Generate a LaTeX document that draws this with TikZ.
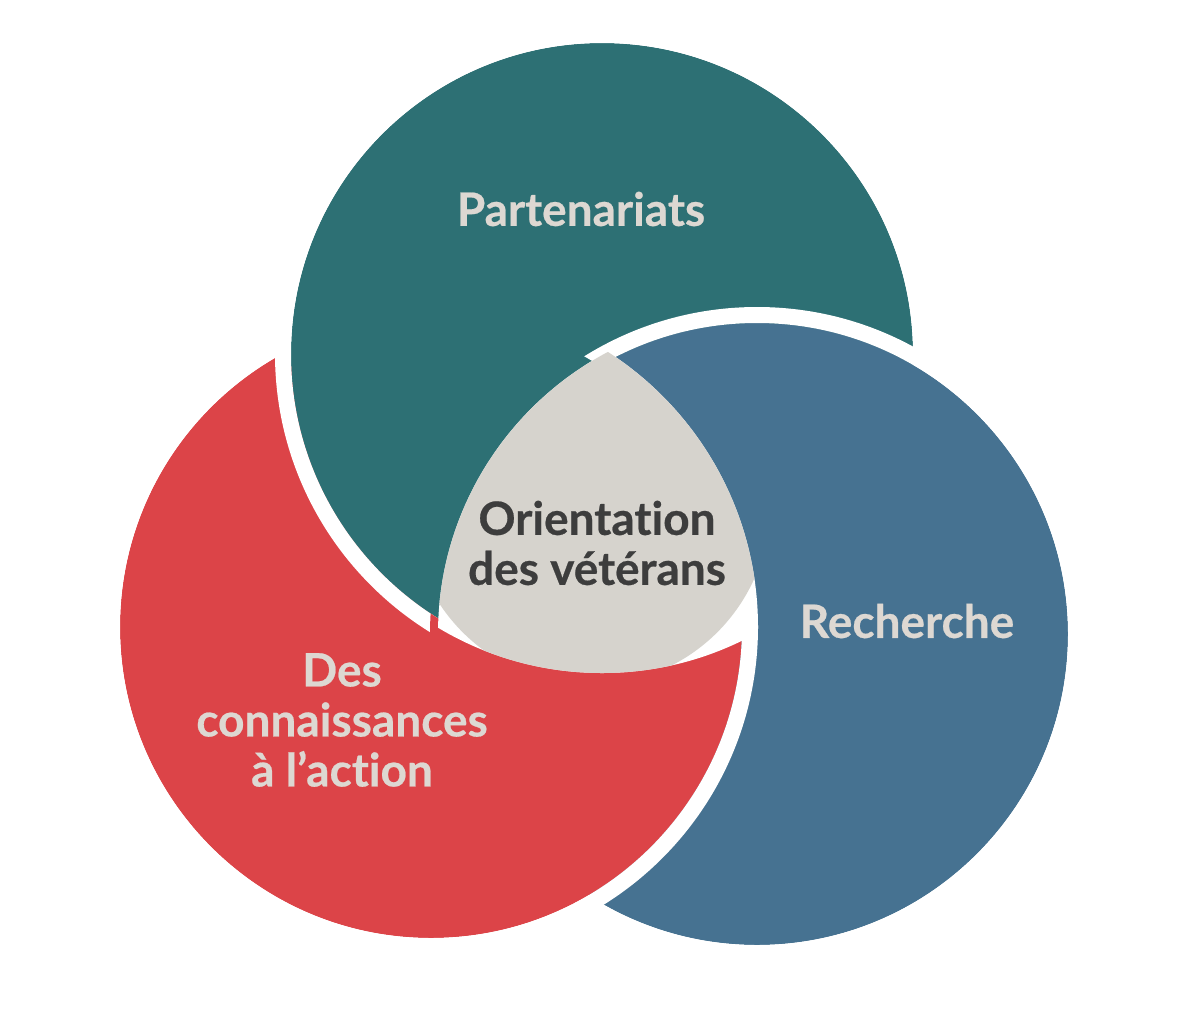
\documentclass[tikz,border=0pt]{standalone}
\usepackage{fontspec}
\setmainfont{Lato}[Ligatures=NoCommon, BoldFeatures={FakeBold=0.5}]
\definecolor{partenariat}{RGB}{45,112,116}
\definecolor{recherche}{RGB}{70,114,145}
\definecolor{action}{RGB}{220,68,72}
\definecolor{centre}{RGB}{214,211,205}
\definecolor{clair}{RGB}{221,216,210}
\definecolor{fonce}{RGB}{61,61,61}

\begin{document}
\begin{tikzpicture}[x=1pt, y=-1pt,
    anneau/.style={draw=white, line width=16pt},
    titre/.style={text=clair, font=\fontsize{46}{50}\selectfont\bfseries, align=center}]
  \useasboundingbox[fill=white] (0,0) rectangle (1196,1010);
  % centres des cercles
  \coordinate (T) at (602,354);
  \coordinate (B) at (757,634);
  \coordinate (R) at (431,627);
  \coordinate (O) at (590,505);

  % rouge en dessous
  \fill[action] (R) circle (311pt);
  \draw[anneau] (R) circle (319pt);
  % sarcelle sur le rouge
  \fill[partenariat] (T) circle (311pt);
  \draw[anneau] (T) circle (319pt);
  % bleu sur la sarcelle
  \fill[recherche] (B) circle (311pt);
  \begin{scope}[even odd rule]
    \clip (R) circle (311pt) (0,0) rectangle (1196,1010);
    \draw[anneau] (B) circle (319pt);
  \end{scope}
  % rouge sur le bleu
  \begin{scope}[even odd rule]
    \clip (B) circle (327pt);
    \clip (T) circle (311pt) (0,0) rectangle (1196,1010);
    \fill[action] (R) circle (311pt);
    \draw[anneau] (R) circle (319pt);
  \end{scope}
  % zone centrale
  \begin{scope}
    \clip (T) circle (319pt);
    \clip (R) circle (327pt);
    \fill[white] (B) circle (319pt);
    \clip (O) circle (180pt);
    \fill[centre] (B) circle (319pt);
  \end{scope}

  \node[titre] (partenariats) at (581,209) {Partenariats};
  \node[titre] (recherche) at (907,621) {Recherche};
  \node[titre] (connaissances) at (342,720) {Des\\connaissances\\à l’action};
  \node[titre, text=fonce] (orientation) at (597,543) {Orientation\\des vétérans};
\end{tikzpicture}
\end{document}
